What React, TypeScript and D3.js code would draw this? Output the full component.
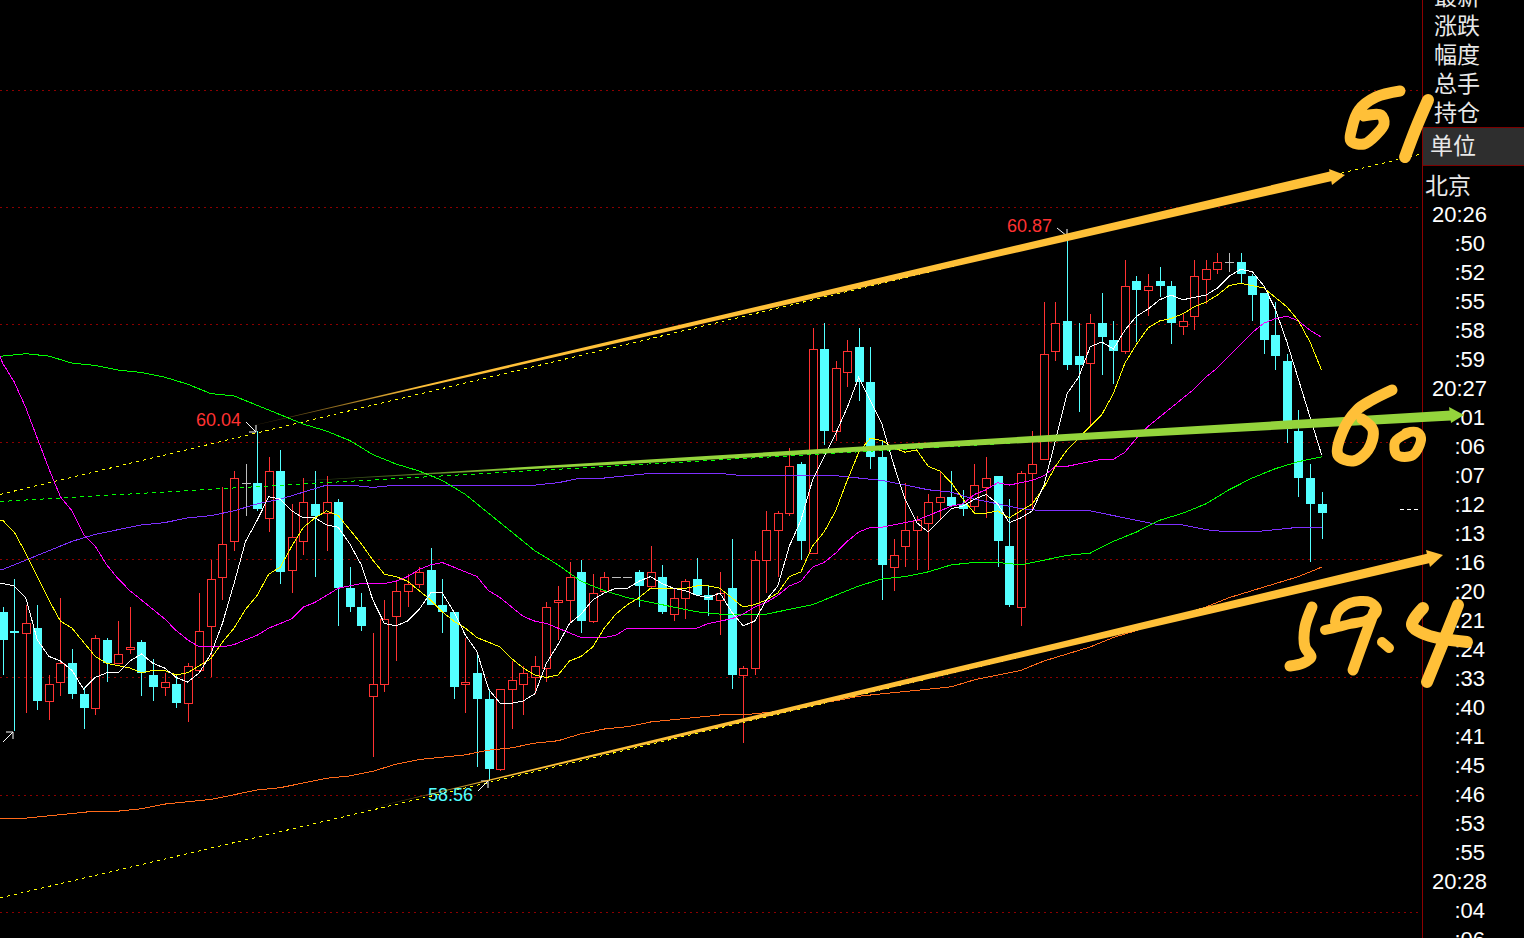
import React from 'react';
import * as d3 from 'd3';

const opens = [59.28,59.20,59.19,59.21,58.90,58.98,59.06,58.93,58.87,59.16,
59.06,59.12,59.15,59.01,58.96,58.97,58.89,59.03,59.22,59.43,
59.58,59.83,59.83,59.68,59.88,59.46,59.58,59.74,59.70,59.75,
59.38,59.30,58.92,58.97,59.26,59.37,59.40,59.46,59.31,59.28,
58.97,59.02,58.91,58.61,58.95,58.97,59.00,59.04,59.32,59.33,
59.45,59.24,59.37,59.43,59.43,59.45,59.39,59.43,59.27,59.34,
59.42,59.35,59.33,59.38,59.01,59.04,59.50,59.63,59.70,59.91,
59.53,60.40,60.05,60.30,60.41,60.26,59.94,59.47,59.56,59.63,
59.66,59.75,59.77,59.74,59.73,59.81,59.86,59.56,59.30,59.87,
59.93,60.39,60.52,60.37,60.34,60.51,60.44,60.39,60.69,60.65,
60.69,60.67,60.50,60.54,60.70,60.74,60.77,60.77,60.71,60.64,
60.46,60.35,60.05,59.85,59.74];
const closes = [59.16,59.19,59.23,58.90,58.97,59.06,58.93,58.87,59.17,59.06,
59.10,59.13,59.02,58.96,58.98,58.89,59.05,59.20,59.42,59.57,
59.85,59.83,59.72,59.88,59.45,59.60,59.75,59.69,59.75,59.38,
59.30,59.22,58.97,59.25,59.37,59.40,59.45,59.31,59.28,58.96,
58.98,58.91,58.61,58.95,58.99,59.02,59.05,59.30,59.33,59.43,
59.24,59.36,59.43,59.43,59.43,59.39,59.45,59.28,59.34,59.41,
59.35,59.33,59.36,59.01,59.04,59.50,59.63,59.70,59.90,59.58,
60.40,60.05,60.32,60.39,60.26,59.94,59.48,59.52,59.63,59.67,
59.75,59.77,59.73,59.72,59.82,59.85,59.58,59.31,59.87,59.91,
60.38,60.51,60.33,60.33,60.51,60.45,60.39,60.67,60.65,60.67,
60.67,60.51,60.52,60.71,60.74,60.77,60.77,60.72,60.63,60.44,
60.37,60.06,59.85,59.74,59.70];
const highs = [59.30,59.42,59.31,59.31,59.01,59.34,59.12,58.96,59.18,59.17,
59.24,59.30,59.16,59.08,59.02,59.01,59.06,59.36,59.50,59.81,
59.88,59.91,60.05,59.94,59.97,59.74,59.85,59.88,59.86,59.76,
59.47,59.36,59.19,59.33,59.41,59.44,59.47,59.55,59.42,59.28,
59.17,59.11,58.95,58.95,59.07,59.05,59.09,59.32,59.39,59.49,
59.50,59.44,59.45,59.43,59.43,59.46,59.56,59.48,59.38,59.42,
59.51,59.39,59.45,59.59,59.05,59.54,59.71,59.71,59.98,59.92,
60.49,60.51,60.35,60.44,60.49,60.41,60.01,59.59,59.83,59.69,
59.78,59.88,59.88,59.80,59.91,59.94,59.86,59.76,59.88,60.05,
60.60,60.60,60.89,60.51,60.55,60.64,60.52,60.78,60.71,60.72,
60.75,60.69,60.55,60.78,60.78,60.81,60.81,60.81,60.72,60.64,
60.60,60.38,60.14,59.91,59.79];
const lows = [59.01,58.77,58.85,58.86,58.82,58.92,58.91,58.78,58.84,58.98,
59.06,59.10,58.92,58.90,58.92,58.87,58.81,59.03,59.00,59.33,
59.54,59.69,59.71,59.62,59.40,59.36,59.52,59.43,59.54,59.22,
59.28,59.20,58.66,58.94,59.07,59.30,59.38,59.31,59.19,58.91,
58.85,58.62,58.56,58.60,58.78,58.84,58.93,58.98,59.16,59.23,
59.19,59.23,59.36,59.43,59.43,59.30,59.38,59.27,59.24,59.25,
59.35,59.26,59.18,58.95,58.72,59.01,59.36,59.43,59.69,59.50,
59.53,59.99,60.01,60.24,60.18,59.89,59.33,59.37,59.47,59.46,
59.46,59.67,59.73,59.69,59.71,59.68,59.47,59.30,59.22,59.71,
59.93,60.35,60.31,60.13,60.07,60.29,60.25,60.38,60.43,60.54,
60.62,60.42,60.46,60.48,60.59,60.72,60.73,60.68,60.52,60.38,
60.31,60.00,59.77,59.49,59.59];

// moving averages sampled on every candle
const maWhite = [59.40,59.39,59.34,59.16,59.09,59.07,59.03,58.95,59.00,59.02,
59.02,59.07,59.10,59.06,59.04,59.00,58.98,59.02,59.10,59.23,
59.40,59.58,59.67,59.77,59.76,59.71,59.68,59.68,59.65,59.64,
59.57,59.48,59.33,59.23,59.22,59.24,59.29,59.36,59.36,59.28,
59.18,59.11,58.95,58.89,58.89,58.90,58.93,59.06,59.14,59.23,
59.27,59.33,59.36,59.38,59.38,59.41,59.43,59.40,59.38,59.37,
59.35,59.34,59.36,59.28,59.22,59.24,59.33,59.39,59.56,59.67,
59.84,59.94,60.04,60.15,60.28,60.18,60.08,59.91,59.76,59.66,
59.62,59.67,59.72,59.73,59.76,59.78,59.74,59.66,59.68,59.71,
59.82,60.01,60.21,60.28,60.41,60.43,60.40,60.48,60.54,60.57,
60.61,60.63,60.61,60.62,60.63,60.66,60.71,60.74,60.73,60.67,
60.57,60.43,60.27,60.11,59.95];
const maYellow = [59.67,59.62,59.53,59.43,59.33,59.24,59.21,59.15,59.09,59.06,
59.05,59.04,59.02,59.03,59.03,59.01,59.02,59.05,59.08,59.15,
59.21,59.29,59.35,59.44,59.47,59.56,59.64,59.68,59.71,59.69,
59.63,59.57,59.50,59.44,59.43,59.41,59.37,59.33,59.28,59.24,
59.21,59.17,59.15,59.13,59.08,59.04,59.01,59.00,59.01,59.07,
59.09,59.13,59.21,59.27,59.31,59.34,59.38,59.38,59.38,59.38,
59.39,59.39,59.38,59.34,59.30,59.31,59.33,59.36,59.43,59.45,
59.56,59.62,59.71,59.84,59.96,60.02,60.01,59.98,59.96,59.97,
59.90,59.88,59.83,59.76,59.70,59.70,59.71,59.68,59.71,59.74,
59.81,59.90,59.97,60.02,60.07,60.12,60.21,60.34,60.42,60.49,
60.52,60.53,60.55,60.58,60.60,60.63,60.67,60.68,60.67,60.66,
60.62,60.58,60.52,60.43,60.31];
const maMagenta = [60.34,60.26,60.15,60.02,59.89,59.77,59.71,59.61,59.56,59.48,
59.42,59.37,59.33,59.29,59.25,59.20,59.16,59.13,59.13,59.13,
59.14,59.16,59.18,59.21,59.23,59.25,59.30,59.32,59.35,59.38,
59.39,59.40,59.40,59.40,59.41,59.43,59.46,59.48,59.49,59.47,
59.45,59.43,59.37,59.34,59.30,59.26,59.24,59.23,59.21,59.19,
59.17,59.17,59.17,59.18,59.21,59.21,59.21,59.21,59.21,59.21,
59.21,59.23,59.24,59.25,59.27,59.30,59.32,59.35,59.39,59.41,
59.47,59.49,59.53,59.58,59.62,59.64,59.64,59.65,59.66,59.67,
59.69,59.71,59.73,59.74,59.78,59.80,59.83,59.82,59.83,59.84,
59.86,59.90,59.90,59.91,59.92,59.93,59.93,59.96,60.02,60.07,
60.11,60.15,60.19,60.23,60.28,60.32,60.37,60.42,60.47,60.51,
60.53,60.54,60.52,60.48,60.45];
const magentaAtLeftEdge = 60.37;

// long moving averages, read on every second candle
const maGreen = [60.37,60.38,60.37,60.34,60.33,60.31,60.30,60.28,60.25,60.21,
60.20,60.16,60.12,60.08,60.05,60.01,59.95,59.91,59.88,59.84,
59.78,59.70,59.62,59.54,59.48,59.41,59.37,59.34,59.32,59.30,
59.28,59.27,59.27,59.27,59.29,59.31,59.35,59.39,59.42,59.43,
59.45,59.48,59.49,59.49,59.48,59.50,59.52,59.53,59.58,59.62,
59.67,59.70,59.74,59.80,59.85,59.89,59.92,59.94];
const maPurple = [59.46,59.50,59.54,59.58,59.61,59.63,59.65,59.66,59.68,59.69,
59.71,59.74,59.76,59.79,59.82,59.82,59.81,59.82,59.82,59.82,
59.82,59.82,59.82,59.82,59.83,59.85,59.85,59.86,59.87,59.87,
59.87,59.87,59.86,59.86,59.86,59.86,59.86,59.85,59.84,59.82,
59.80,59.79,59.76,59.74,59.72,59.71,59.71,59.71,59.69,59.67,
59.65,59.65,59.63,59.62,59.62,59.63,59.64,59.64];
const maOrange = [58.40,58.40,58.41,58.42,58.43,58.43,58.44,58.46,58.47,58.48,
58.50,58.52,58.53,58.55,58.57,58.58,58.60,58.63,58.65,58.66,
58.67,58.69,58.70,58.72,58.73,58.76,58.78,58.79,58.81,58.82,
58.83,58.84,58.84,58.85,58.86,58.89,58.90,58.92,58.93,58.94,
58.95,58.96,58.99,59.01,59.03,59.07,59.10,59.13,59.17,59.20,
59.24,59.27,59.30,59.34,59.37,59.40,59.43,59.47];

// dotted trend lines: [candle index, price] pairs
const trendUpper: [number, number][] = [[-0.22, 59.78], [122.5, 61.23]];
const trendMiddle: [number, number][] = [[-0.22, 59.75], [122.5, 60.10]];
const trendLower: [number, number][] = [[-0.22, 58.06], [122.5, 59.49]];

const gridPrices = [58, 58.5, 59, 59.503, 60.002, 60.506, 61.006, 61.503];
const headerLabels = [['最新', 5], ['涨跌', 34], ['幅度', 63], ['总手', 92], ['持仓', 121]] as const;
const timeLabels = ['20:26', ':50', ':52', ':55', ':58', ':59', '20:27', ':01', ':06', ':07', ':12', ':13', ':16', ':20', ':21', ':24', ':33', ':40', ':41', ':45', ':46', ':53', ':55', '20:28', ':04', ':06'];

const W = 1524, H = 938;
const RED = '#ff3232', CYAN = '#54ffff', PEN = '#ffc038', PENG = '#94d43c';
const x = d3.scaleLinear().domain([0, 114]).range([2.6, 1321.6]);
const y = d3.scaleLinear().domain([58, 61.5]).range([912, 91]);
const px = (i: number) => Math.round(x(i)) + 0.5;

const EDGE = -0.22;
const every = (vals: number[], first = vals[0]) => [[EDGE, first] as [number, number], ...vals.map((v, i) => [i, v] as [number, number])];
const everySecond = (vals: number[]) => [[EDGE, vals[0]] as [number, number], ...vals.map((v, i) => [i * 2, v] as [number, number])];
const line = d3.line<[number, number]>().x(d => x(d[0])).y(d => y(d[1]));
const pen = d3.line<[number, number]>().curve(d3.curveCatmullRom.alpha(0.5));

function taper(x0: number, y0: number, x1: number, y1: number, w: number) {
  return `M${x0},${y0}L${x1},${y1 - w / 2}L${x1},${y1 + w / 2}Z`;
}

const strokes: { pts: [number, number][]; w: number }[] = [
  // 61
  { pts: [[1400, 91], [1376, 97], [1359, 110], [1352, 128], [1351, 141], [1364, 144], [1376, 135], [1384, 124], [1381, 115], [1364, 116]], w: 11 },
  { pts: [[1428, 100], [1416, 128], [1405, 157]], w: 12 },
  // 60
  { pts: [[1392, 390], [1372, 400], [1357, 410], [1342, 433], [1338, 455], [1353, 461], [1368, 450], [1373, 430], [1362, 419]], w: 11 },
  { pts: [[1408, 433], [1395, 442], [1397, 455], [1413, 455], [1421, 438], [1416, 432], [1406, 433]], w: 10 },
  // 59.4
  { pts: [[1312, 607], [1305, 627], [1305, 647], [1311, 657], [1303, 663], [1290, 666]], w: 11 },
  { pts: [[1325, 630], [1338, 627], [1350, 624], [1367, 620], [1377, 610], [1370, 602], [1350, 603], [1338, 612], [1335, 622]], w: 10 },
  { pts: [[1374, 612], [1363, 642], [1353, 670]], w: 11 },
  { pts: [[1382, 642], [1389, 648]], w: 10 },
  { pts: [[1423, 608], [1412, 625], [1427, 635], [1467, 642]], w: 12 },
  { pts: [[1458, 605], [1442, 645], [1427, 682]], w: 12 },
];

function Pointer({ from, to }: { from: [number, number]; to: [number, number] }) {
  const sx = Math.sign(to[0] - from[0]), sy = Math.sign(to[1] - from[1]);
  return (
    <path d={`M${from}L${to}M${to[0] - 7 * sx},${to[1]}L${to}L${to[0]},${to[1] - 7 * sy}`} stroke="#fff" fill="none" strokeWidth={1} />
  );
}

export default function App() {
  const ma: [[number, number][], string][] = [
    [everySecond(maOrange), '#ff6a1a'],
    [everySecond(maPurple), '#7f2fff'],
    [everySecond(maGreen), '#00ff00'],
    [every(maMagenta, magentaAtLeftEdge), '#ff00ff'],
    [every(maYellow), '#ffff00'],
    [every(maWhite), '#ffffff'],
  ];
  return (
    <svg width={W} height={H} viewBox={`0 0 ${W} ${H}`} style={{ position: 'fixed', left: 0, top: 0, background: '#000', display: 'block' }}>
      <defs>
        <linearGradient id="gU" gradientUnits="userSpaceOnUse" x1="225" x2="420" y1="0" y2="0">
          <stop offset="0" stopColor={PEN} stopOpacity={0} /><stop offset="1" stopColor={PEN} />
        </linearGradient>
        <linearGradient id="gL" gradientUnits="userSpaceOnUse" x1="350" x2="500" y1="0" y2="0">
          <stop offset="0" stopColor={PEN} stopOpacity={0} /><stop offset="1" stopColor={PEN} />
        </linearGradient>
        <linearGradient id="gM" gradientUnits="userSpaceOnUse" x1="264" x2="520" y1="0" y2="0">
          <stop offset="0" stopColor={PENG} stopOpacity={0} /><stop offset="1" stopColor={PENG} />
        </linearGradient>
      </defs>
      <rect width={W} height={H} fill="#000" />
      {gridPrices.map(p => (
        <line key={p} x1={0} x2={1421} y1={Math.round(y(p)) + 0.5} y2={Math.round(y(p)) + 0.5} stroke="#8c0000" strokeDasharray="2 4" />
      ))}
      <rect x={1423} y={127} width={101} height={39} fill="#2e2e2e" />
      <line x1={1423} x2={1524} y1={127.5} y2={127.5} stroke="#7d0000" />
      <line x1={1423} x2={1524} y1={165.5} y2={165.5} stroke="#7d0000" />
      <line x1={1422.5} x2={1422.5} y1={0} y2={H} stroke="#8c0000" strokeWidth={1} />
      <g fontFamily="'Noto Sans CJK SC'" fontSize={23} fill="#e8e8e8">
        {headerLabels.map(([t, b]) => <text key={t} x={1434} y={b}>{t}</text>)}
        <text x={1430} y={154}>单位</text>
        <text x={1425} y={194}>北京</text>
      </g>
      <g fontFamily="'Liberation Sans'" fontSize={22} fill="#ffffff" textAnchor="end">
        {timeLabels.map((t, i) => <text key={i} x={t.length > 3 ? 1487 : 1485} y={222 + i * 29}>{t}</text>)}
      </g>
      <line x1={1400} x2={1421} y1={509.5} y2={509.5} stroke="#fff" strokeDasharray="4 3" />

      {opens.map((o, i) => {
        const c = closes[i];
        const col = c > o ? RED : c < o ? CYAN : '#bdbdbd';
        const top = Math.round(y(Math.max(o, c))), bot = Math.round(y(Math.min(o, c)));
        const cx = px(i);
        return (
          <g key={i} shapeRendering="crispEdges">
            <line x1={cx} x2={cx} y1={y(highs[i])} y2={y(lows[i])} stroke={col} />
            {c === o ? (
              <line x1={cx - 4.5} x2={cx + 4.5} y1={top + 0.5} y2={top + 0.5} stroke={col} />
            ) : c > o ? (
              <rect x={cx - 4} y={top + 0.5} width={8} height={bot - top} fill="#000" stroke={col} />
            ) : (
              <rect x={cx - 4.5} y={top} width={9} height={bot - top} fill={col} />
            )}
          </g>
        );
      })}

      <g fill="none" shapeRendering="crispEdges">
        <path d={line(trendMiddle)!} stroke="#00ff00" strokeDasharray="4 4" />
        <path d={line(trendUpper)!} stroke="#ffff00" strokeDasharray="3 4" />
        <path d={line(trendLower)!} stroke="#ffff00" strokeDasharray="3 4" />
      </g>

      <g fill="none" strokeWidth={1} shapeRendering="crispEdges">
        {ma.map(([pts, col]) => <path key={col} d={line(pts)!} stroke={col} />)}
      </g>

      <g fontFamily="'Liberation Sans'" fontSize={18}>
        <text x={196} y={426} fill="#ff3232">60.04</text>
        <text x={1007} y={232} fill="#ff3232">60.87</text>
        <text x={428} y={801} fill={CYAN}>58.56</text>
      </g>
      <Pointer from={[246, 422]} to={[256, 432]} />
      <Pointer from={[1057, 228]} to={[1067, 236]} />
      <Pointer from={[478, 791]} to={[488, 781]} />
      <Pointer from={[3, 742]} to={[13, 732]} />

      <path d={taper(225, 432, 1332, 176, 10)} fill="url(#gU)" />
      <path d="M1345,175L1329,169L1332,185Z" fill={PEN} />
      <path d={taper(350, 813, 1430, 558, 10)} fill="url(#gL)" />
      <path d="M1443,555L1426,550L1430,567Z" fill={PEN} />
      <path d={taper(264, 483, 1451, 415.5, 10)} fill="url(#gM)" />
      <path d="M1464,415L1449,407L1451,423Z" fill={PENG} />
      <g fill="none" stroke={PEN} strokeLinecap="round" strokeLinejoin="round">
        {strokes.map((s, i) => <path key={i} d={pen(s.pts)!} strokeWidth={s.w} />)}
      </g>
    </svg>
  );
}
